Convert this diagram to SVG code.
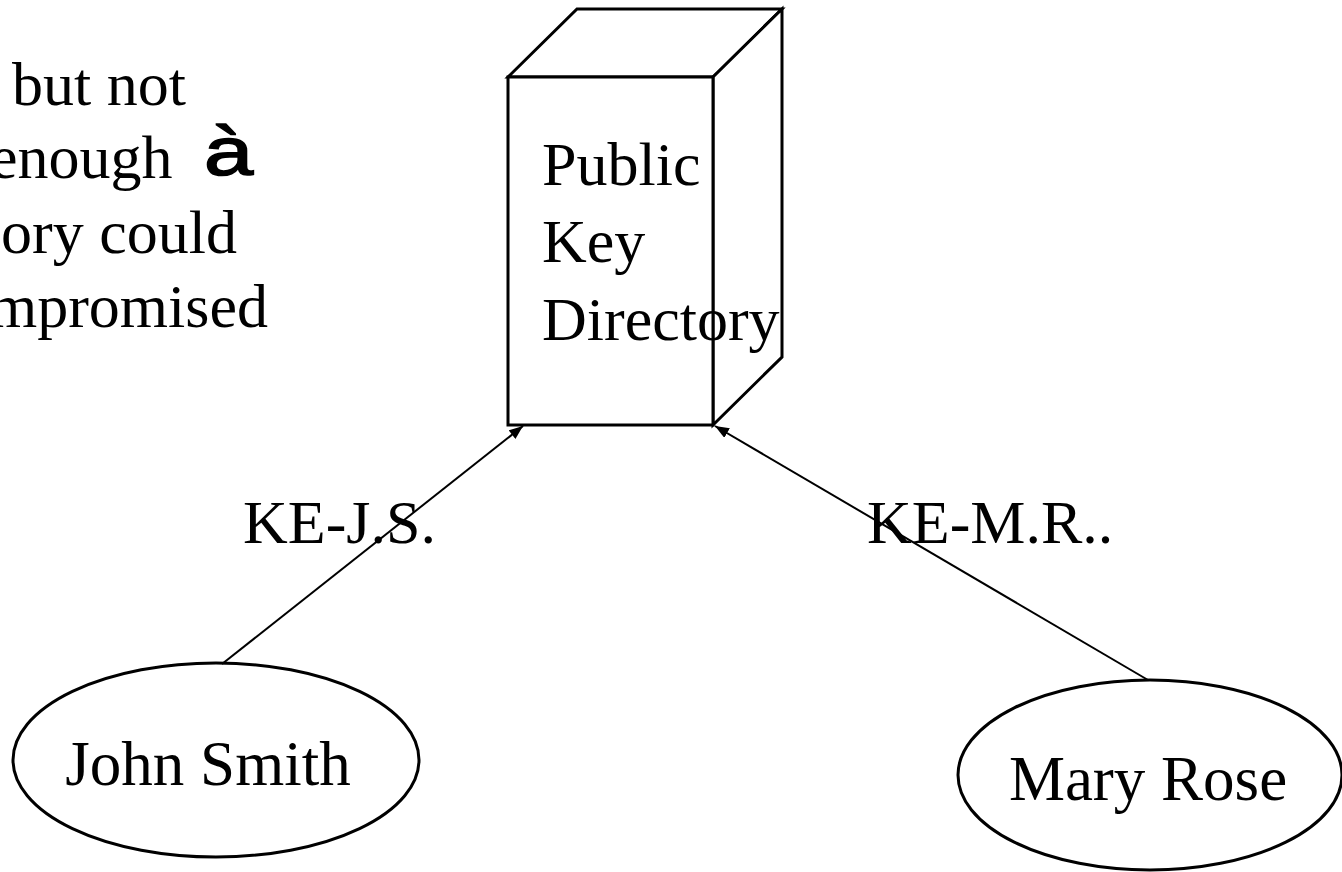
<svg xmlns="http://www.w3.org/2000/svg" width="1342" height="872" viewBox="0 0 1342 872">
<style>
text{font-family:"Liberation Serif","Times New Roman",serif;font-size:62px;fill:#000}
.shape{fill:#fff;stroke:#000;stroke-width:3;stroke-linejoin:miter}
.conn{stroke:#000;stroke-width:2;fill:none}
.sym{font-family:"Liberation Sans",Arial,sans-serif;font-size:68px;stroke:#000;stroke-width:1.6}
</style>
<defs>
<marker id="arr" viewBox="0 0 14 11" refX="14" refY="5.5" markerWidth="14" markerHeight="11" markerUnits="userSpaceOnUse" orient="auto">
<path d="M0,0 L14,5.5 L0,11 z" fill="#000"/>
</marker>
</defs>
<rect width="1342" height="872" fill="#fff"/>
<g id="note">
<text x="12" y="105">but not</text>
<text x="-10" y="178">enough</text>
<text class="sym" x="0" y="0" transform="translate(204,175) scale(1.3,1)">à</text>
<text x="1" y="253">ory could</text>
<text x="-11" y="327">mpromised</text>
</g>
<g id="directory">
<path class="shape" d="M508,77 L577,9 L782,9 L713,77 Z"/>
<path class="shape" d="M713,77 L782,9 L782,357 L713,425 Z"/>
<rect class="shape" x="508" y="77" width="205" height="348"/>
<text x="542" y="185">Public</text>
<text x="542" y="262">Key</text>
<text x="542" y="340">Directory</text>
</g>
<g id="john">
<ellipse class="shape" cx="216" cy="760" rx="203" ry="97" stroke-width="2.2"/>
<text x="208" y="785" text-anchor="middle" style="font-size:63px">John Smith</text>
</g>
<g id="mary">
<ellipse class="shape" cx="1150" cy="775" rx="192" ry="95" stroke-width="2.2"/>
<text x="1148" y="800" text-anchor="middle" style="font-size:63px">Mary Rose</text>
</g>
<g id="connectors">
<line class="conn" x1="222" y1="664" x2="523" y2="426" marker-end="url(#arr)"/>
<line class="conn" x1="1148" y1="680" x2="715" y2="426" marker-end="url(#arr)"/>
<text x="243" y="543">KE-J.S.</text>
<text x="867" y="543">KE-M.R..</text>
</g>
</svg>
